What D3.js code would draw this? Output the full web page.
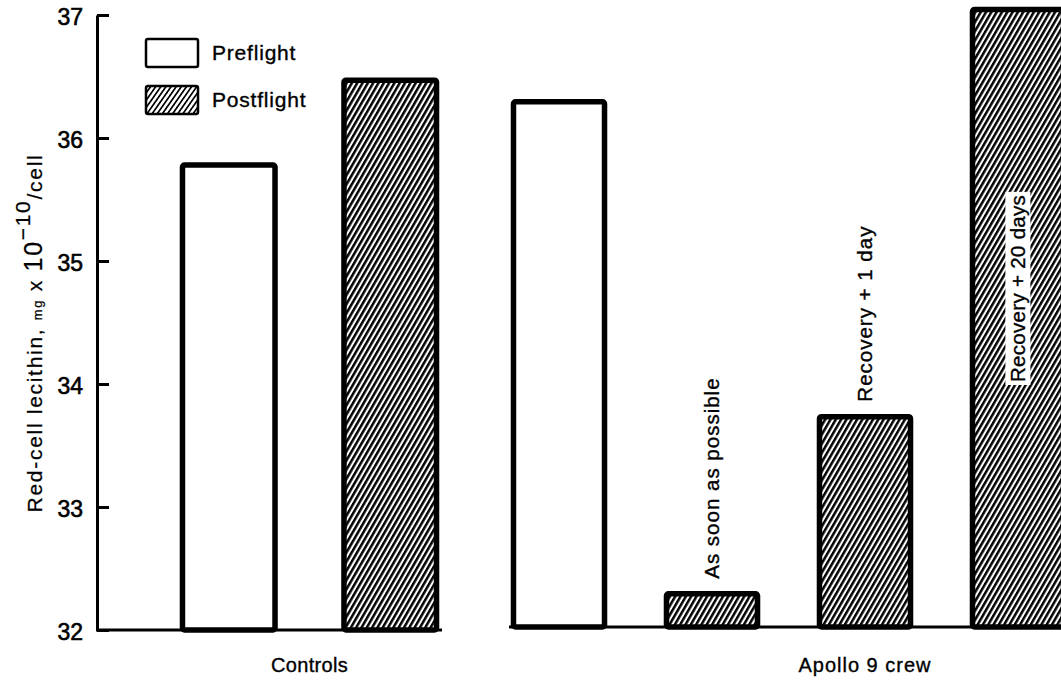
<!DOCTYPE html>
<html>
<head>
<meta charset="utf-8">
<script src="https://cdn.jsdelivr.net/npm/d3@7"></script>
<style>
  html, body { margin: 0; padding: 0; background: #fff; }
  svg { display: block; }
  text { font-family: "Liberation Sans", Arial, sans-serif; fill: #000; }
</style>
</head>
<body>
<svg id="chart" width="1061" height="680"></svg>
<script>
// ---- data ----
const groupNames = ["Controls", "Apollo 9 crew"];
const controlsCats = ["Preflight", "Postflight"];
const controlsVals = [35.78, 36.47];
const controlsKind = ["pre", "post"];
const apolloCats = ["Preflight", "As soon as possible", "Recovery + 1 day", "Recovery + 20 days"];
const apolloVals = [36.27, 32.27, 33.71, 37.02];
const apolloKind = ["pre", "post", "post", "post"];
const apolloLabels = ["", "As soon as possible", "Recovery + 1 day", "Recovery + 20 days"];
const yTicks = [32, 33, 34, 35, 36, 37];
const legendItems = ["Preflight", "Postflight"];
const legendKind = ["pre", "post"];

// ---- layout ----
const svg = d3.select("#chart");
const axisX = 97;
const y = d3.scaleLinear().domain([32, 37]).range([630, 15]);

const defs = svg.append("defs");
defs.append("pattern")
  .attr("id", "hatch")
  .attr("patternUnits", "userSpaceOnUse")
  .attr("width", 4.6).attr("height", 10)
  .attr("patternTransform", "rotate(30)")
  .append("rect")
  .attr("x", 0).attr("y", 0).attr("width", 2.5).attr("height", 10)
  .attr("fill", "#000");
defs.append("pattern")
  .attr("id", "hatchThin")
  .attr("patternUnits", "userSpaceOnUse")
  .attr("width", 4.2).attr("height", 10)
  .attr("patternTransform", "rotate(35)")
  .append("rect")
  .attr("x", 0).attr("y", 0).attr("width", 1.7).attr("height", 10)
  .attr("fill", "#000");

const fillFor = k => k === "post" ? "url(#hatch)" : "#fff";
const barStroke = 5.5;

// ---- y axis ----
const yAxis = d3.axisLeft(y).tickValues(yTicks).tickFormat(d3.format("d"))
  .tickSize(-12).tickSizeOuter(0).tickPadding(14);
const gAxis = svg.append("g").attr("transform", `translate(${axisX},0)`).call(yAxis);
gAxis.select(".domain").attr("stroke", "#000").attr("stroke-width", 3);
gAxis.selectAll(".tick line").attr("stroke", "#000").attr("stroke-width", 3);
gAxis.selectAll(".tick text")
  .attr("font-size", 23).attr("dy", "0.42em")
  .attr("font-family", "'Liberation Sans', Arial, sans-serif")
  .attr("fill", "#000").attr("stroke", "#000").attr("stroke-width", 0.6);

// ---- y title ----
const yTitle = svg.append("text")
  .attr("transform", "translate(42,333) rotate(-90)")
  .attr("text-anchor", "middle")
  .attr("font-size", 21)
  .attr("letter-spacing", 1.7)
  .attr("stroke", "#000").attr("stroke-width", 0.25);
yTitle.append("tspan").text("Red-cell lecithin, ");
yTitle.append("tspan").attr("font-size", 13).text("mg");
yTitle.append("tspan").text(" x ");
yTitle.append("tspan").attr("font-size", 25).text("10");
yTitle.append("tspan").attr("font-size", 21).attr("dy", "-0.55em").text("\u221210");
yTitle.append("tspan").attr("dy", "0.55em").text("/cell");

// ---- controls group ----
const xC = d3.scaleBand().domain(controlsCats).range([148, 471])
  .paddingInner(0.427).paddingOuter(0.2135);
const gC = svg.append("g");
gC.append("line")
  .attr("x1", axisX - 1).attr("x2", 442)
  .attr("y1", y(32)).attr("y2", y(32))
  .attr("stroke", "#000").attr("stroke-width", 3);
gC.selectAll("rect.bar").data(controlsCats).join("rect")
  .attr("class", "bar")
  .attr("x", d => xC(d))
  .attr("width", xC.bandwidth())
  .attr("y", (d, i) => y(controlsVals[i]))
  .attr("height", (d, i) => y(32) - y(controlsVals[i]))
  .attr("rx", 2)
  .attr("fill", (d, i) => fillFor(controlsKind[i]))
  .attr("stroke", "#000").attr("stroke-width", barStroke);
svg.append("text")
  .attr("x", (xC.range()[0] + xC.range()[1]) / 2).attr("y", 672)
  .attr("text-anchor", "middle").attr("font-size", 20)
  .attr("stroke", "#000").attr("stroke-width", 0.35)
  .attr("letter-spacing", 0.3)
  .text(groupNames[0]);

// ---- Apollo group ----
const xA = d3.scaleBand().domain(apolloCats).range([482.5, 1094.5])
  .paddingInner(0.405).paddingOuter(0.2025);
const gA = svg.append("g").attr("transform", "translate(0,-3)");
gA.append("line")
  .attr("x1", 509).attr("x2", 1061)
  .attr("y1", y(32)).attr("y2", y(32))
  .attr("stroke", "#000").attr("stroke-width", 3);
gA.selectAll("rect.bar").data(apolloCats).join("rect")
  .attr("class", "bar")
  .attr("x", d => xA(d))
  .attr("width", xA.bandwidth())
  .attr("y", (d, i) => y(apolloVals[i]))
  .attr("height", (d, i) => y(32) - y(apolloVals[i]))
  .attr("rx", 2)
  .attr("fill", (d, i) => fillFor(apolloKind[i]))
  .attr("stroke", "#000").attr("stroke-width", barStroke);

// rotated bar labels
apolloCats.forEach((c, i) => {
  const label = apolloLabels[i];
  if (!label) return;
  const cx = xA(c) + xA.bandwidth() / 2;
  const inside = y(apolloVals[i]) < 200;
  const y0 = inside ? y(34) + 1 : y(apolloVals[i]) - 15;
  const g = gA.append("g").attr("transform", `translate(${cx},${y0}) rotate(-90)`);
  const t = g.append("text")
    .attr("x", 0).attr("y", 0).attr("dy", "0.36em")
    .attr("font-size", 20.5)
    .attr("stroke", "#000").attr("stroke-width", 0.35)
    .attr("letter-spacing", inside ? 0.3 : 1.0)
    .text(label);
  if (inside) {
    const bb = t.node().getBBox();
    g.insert("rect", "text")
      .attr("x", bb.x - 3).attr("y", bb.y - 1)
      .attr("width", bb.width + 6).attr("height", bb.height + 2)
      .attr("fill", "#fff");
  }
});

svg.append("text")
  .attr("x", xA("Recovery + 1 day") + xA.bandwidth() / 2).attr("y", 672)
  .attr("text-anchor", "middle").attr("font-size", 20)
  .attr("stroke", "#000").attr("stroke-width", 0.35)
  .attr("letter-spacing", 1.0)
  .text(groupNames[1]);

// ---- legend ----
const legY = d3.scalePoint().domain(legendItems).range([53, 100]);
const gL = svg.append("g");
gL.selectAll("rect").data(legendItems).join("rect")
  .attr("x", 146).attr("width", 52)
  .attr("y", d => legY(d) - 14).attr("height", 28)
  .attr("rx", 2)
  .attr("fill", (d, i) => legendKind[i] === "post" ? "url(#hatchThin)" : "#fff")
  .attr("stroke", "#000").attr("stroke-width", 2.5);
gL.selectAll("text").data(legendItems).join("text")
  .attr("x", 212).attr("y", d => legY(d)).attr("dy", "0.35em")
  .attr("font-size", 21)
  .attr("stroke", "#000").attr("stroke-width", 0.35)
  .attr("letter-spacing", 0.8)
  .text(d => d);
</script>
</body>
</html>
